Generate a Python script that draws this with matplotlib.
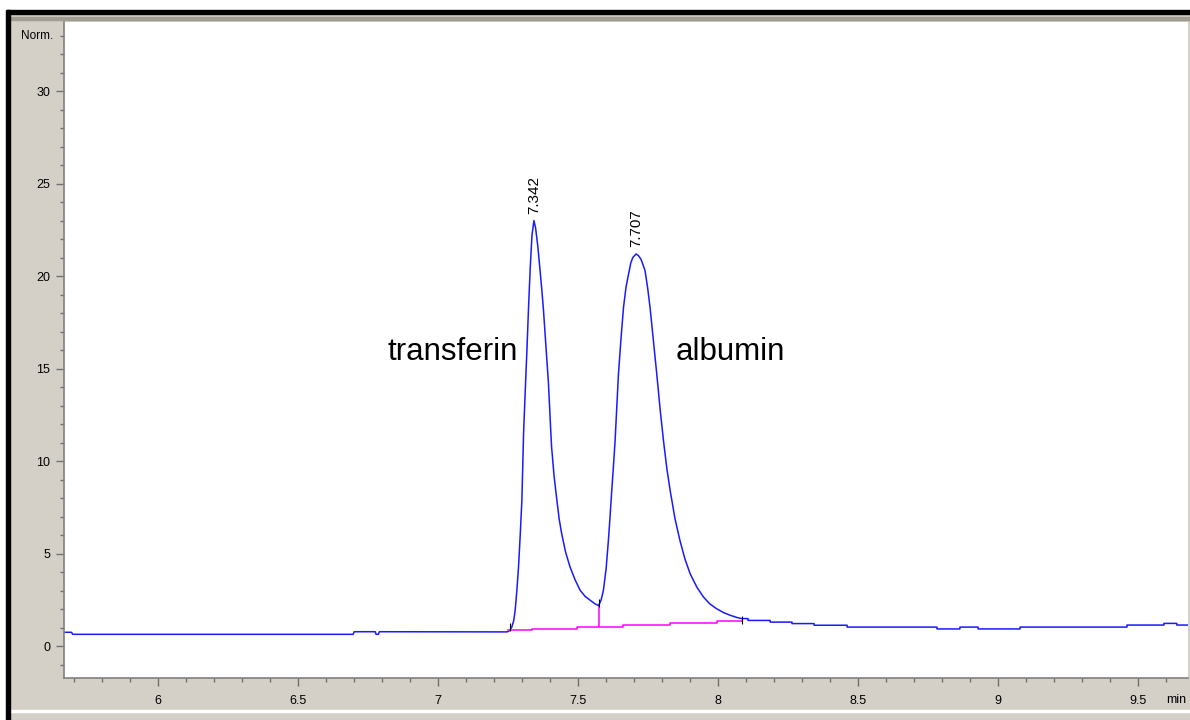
import matplotlib
matplotlib.use("Agg")
import matplotlib.pyplot as plt
from matplotlib.patches import Rectangle
from matplotlib.ticker import MultipleLocator

# ---- signal trace (min, Norm.) ----
trace_t = [5.663, 5.690, 5.694, 6.696, 6.700, 6.775, 6.778, 6.786, 6.790, 7.246,
           7.255, 7.263, 7.270, 7.275, 7.281, 7.287, 7.293, 7.299, 7.305, 7.311,
           7.317, 7.323, 7.329, 7.335, 7.342, 7.348, 7.356, 7.364, 7.370, 7.376,
           7.385, 7.394, 7.400, 7.405, 7.414, 7.424, 7.432, 7.441, 7.455, 7.471,
           7.489, 7.507, 7.525, 7.543, 7.560, 7.573, 7.582, 7.590, 7.600, 7.608,
           7.614, 7.620, 7.626, 7.632, 7.638, 7.644, 7.653, 7.662, 7.671, 7.680,
           7.688, 7.695, 7.707, 7.716, 7.725, 7.732, 7.739, 7.748, 7.757, 7.769,
           7.781, 7.793, 7.805, 7.817, 7.829, 7.846, 7.864, 7.882, 7.900, 7.924,
           7.948, 7.970, 7.995, 8.020, 8.043, 8.065, 8.084, 8.107,
           8.107, 8.186, 8.186, 8.264, 8.264, 8.343, 8.343, 8.461,
           8.461, 8.782, 8.782, 8.864, 8.864, 8.929, 8.929, 9.079, 9.079, 9.461,
           9.461, 9.593, 9.593, 9.639, 9.639, 9.680]
trace_v = [0.76, 0.76, 0.65, 0.65, 0.79, 0.79, 0.65, 0.65, 0.79, 0.78,
           0.85, 1.04, 1.40, 1.95, 3.00, 4.29, 6.00, 7.90, 11.5, 13.8,
           16.0, 18.4, 20.5, 22.2, 23.0, 22.6, 21.6, 20.3, 19.3, 18.2,
           16.2, 14.2, 12.3, 10.8, 9.20, 7.90, 6.90, 6.10, 5.10, 4.29,
           3.60, 3.03, 2.70, 2.49, 2.30, 2.20, 2.50, 3.00, 4.20, 5.70,
           7.00, 8.40, 9.70, 11.1, 12.9, 14.7, 16.6, 18.3, 19.4, 20.1,
           20.7, 21.0, 21.2, 21.1, 20.9, 20.6, 20.3, 19.4, 18.3, 16.5,
           14.7, 12.8, 11.1, 9.60, 8.40, 6.90, 5.70, 4.70, 3.93, 3.20,
           2.66, 2.30, 2.03, 1.82, 1.68, 1.57, 1.50, 1.50,
           1.40, 1.40, 1.31, 1.31, 1.23, 1.23, 1.14, 1.14,
           1.04, 1.04, 0.94, 0.94, 1.04, 1.04, 0.94, 0.94, 1.04, 1.04,
           1.15, 1.15, 1.24, 1.24, 1.15, 1.15]

# integration baseline (magenta)
base_t = [7.250, 7.336, 7.496, 7.661, 7.829, 7.996, 8.086]
base_v = [0.86, 0.95, 1.04, 1.14, 1.26, 1.35, 1.35]

# peak apexes and names
peak_rt = [7.342, 7.707]
peak_h = [23.0, 21.2]
peak_labels = ["7.342", "7.707"]
names = ["transferin", "albumin"]
name_t = [7.052, 8.043]
name_v = [15.9, 15.9]

# valley drop line and integration event marks
valley_t = 7.573
valley_v = 2.20
valley_base = 1.04
event_t = [7.257, 7.573, 8.084]
event_v = [1.05, 2.35, 1.45]

GRAY = "#d4d0c8"

fig = plt.figure(figsize=(11.9, 7.2), dpi=100, facecolor=GRAY)
ax = fig.add_axes([64 / 1190, 1 - 678 / 720, 1124 / 1190, 656 / 720])
ax.set_facecolor("white")

ax.plot(trace_t, trace_v, color="#1a1aff", linewidth=1.1)
ax.plot(base_t, base_v, color="#ff00ff", linewidth=1.1, drawstyle="steps-post")
ax.vlines(valley_t, valley_base, valley_v, color="#ff00ff", linewidth=1.1)
ax.plot(event_t, event_v, linestyle="none", marker="|", markersize=6,
        color="black", markeredgewidth=0.8)

for rt, h, lab in zip(peak_rt, peak_h, peak_labels):
    ax.text(rt, h + 0.35, lab, rotation=90, ha="center", va="bottom",
            fontsize=11, family="Liberation Sans")

for t, v, name in zip(name_t, name_v, names):
    ax.text(t, v, name, ha="center", va="center", fontsize=22.5,
            family="Liberation Sans")

ax.set_xlim(5.663, 9.679)
ax.set_ylim(-1.71, 33.73)
ax.xaxis.set_minor_locator(MultipleLocator(0.1))
ax.yaxis.set_minor_locator(MultipleLocator(1))
ax.set_xticks([6, 6.5, 7, 7.5, 8, 8.5, 9, 9.5])
ax.set_xticklabels(["6", "6.5", "7", "7.5", "8", "8.5", "9", "9.5"])
ax.set_yticks([0, 5, 10, 15, 20, 25, 30])

ax.tick_params(which="major", length=6, width=1, color="#707070",
               labelsize=9, pad=4)
ax.tick_params(which="minor", length=3, width=1, color="#707070")
ax.tick_params(axis="x", pad=6)
for lbl in ax.get_xticklabels() + ax.get_yticklabels():
    lbl.set_family("Liberation Sans")

for side in ["top", "right"]:
    ax.spines[side].set_visible(False)
for side in ["left", "bottom"]:
    ax.spines[side].set_color("#808080")
    ax.spines[side].set_linewidth(1.2)

# axis captions placed like tick labels
ax.text(-0.01, 33.0, "Norm.", transform=ax.get_yaxis_transform(),
        ha="right", va="center", fontsize=8.5, family="Liberation Sans")
ax.text(9.636, -0.024, "min", transform=ax.get_xaxis_transform(),
        ha="center", va="top", fontsize=9, family="Liberation Sans")

# window frame decorations
T = fig.transFigure
fig.add_artist(Rectangle((0, 1 - 10 / 720), 1, 10 / 720, transform=T,
                         color="white", zorder=0))
fig.add_artist(Rectangle((0, 1 - 14 / 720), 1, 4 / 720, transform=T,
                         color="black", zorder=1))
fig.add_artist(Rectangle((0, 1 - 20 / 720), 1, 3 / 720, transform=T,
                         color="#a09c94", zorder=1))
fig.add_artist(Rectangle((0, 0), 6 / 1190, 1, transform=T,
                         color="white", zorder=2))
fig.add_artist(Rectangle((6 / 1190, 0), 4 / 1190, 1 - 10 / 720, transform=T,
                         color="black", zorder=2))
fig.add_artist(Rectangle((10 / 1190, 1 - 712 / 720), 1, 2 / 720, transform=T,
                         color="white", zorder=1))

fig.savefig("out.png", dpi=100, facecolor=GRAY)
